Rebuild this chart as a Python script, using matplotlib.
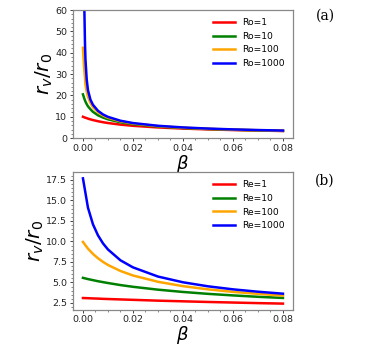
import numpy as np
import matplotlib
matplotlib.use('Agg')
import matplotlib.pyplot as plt

# valores
beta_a = [0.0, 0.0004, 0.0006, 0.0008, 0.001, 0.0015, 0.002, 0.003, 0.004, 0.006,
          0.008, 0.01, 0.015, 0.02, 0.03, 0.04, 0.05, 0.06, 0.07, 0.08]
ro_1 = [10.0, 9.8, 9.7, 9.6, 9.55, 9.35, 9.13, 8.77, 8.45, 7.91,
        7.45, 7.07, 6.32, 5.77, 5.0, 4.47, 4.08, 3.78, 3.54, 3.33]
ro_10 = [20.5, 19.0, 18.3, 17.7, 17.1, 15.9, 14.9, 13.5, 12.3, 10.7,
         9.63, 8.81, 7.42, 6.54, 5.43, 4.74, 4.27, 3.91, 3.63, 3.40]
ro_100 = [42.3, 34.0, 31.0, 28.6, 25.0, 21.8, 19.4, 16.4, 14.5, 12.1,
          10.6, 9.54, 7.85, 6.83, 5.60, 4.86, 4.36, 3.98, 3.69, 3.45]
ro_1000 = [100.0, 70.0, 58.0, 45.0, 37.0, 27.5, 22.5, 18.0, 15.6, 12.8,
           11.1, 9.95, 8.14, 7.05, 5.77, 5.0, 4.47, 4.08, 3.78, 3.53]

beta_b = [0.0, 0.002, 0.004, 0.006, 0.008, 0.01, 0.015, 0.02, 0.03, 0.04,
          0.05, 0.06, 0.07, 0.08]
re_1 = [3.10, 3.08, 3.05, 3.03, 3.00, 2.98, 2.93, 2.88, 2.78, 2.70,
        2.62, 2.55, 2.48, 2.42]
re_10 = [5.56, 5.41, 5.28, 5.15, 5.04, 4.93, 4.68, 4.47, 4.12, 3.84,
         3.61, 3.42, 3.25, 3.11]
re_100 = [9.94, 9.12, 8.48, 7.95, 7.51, 7.13, 6.40, 5.85, 5.08, 4.55,
          4.16, 3.85, 3.61, 3.40]
re_1000 = [17.69, 14.12, 12.09, 10.75, 9.77, 9.02, 7.70, 6.84, 5.72, 5.02,
           4.53, 4.16, 3.87, 3.63]

colores = ['red', 'green', 'orange', 'blue']

fig = plt.figure(figsize=(3.78, 3.47), dpi=100)
ax1 = fig.add_axes([0.193, 0.602, 0.582, 0.369])
ax2 = fig.add_axes([0.193, 0.107, 0.582, 0.397])

for y, lab, c in zip([ro_1, ro_10, ro_100, ro_1000],
                     ['Ro=1', 'Ro=10', 'Ro=100', 'Ro=1000'], colores):
    ax1.plot(beta_a, y, color=c, lw=1.8, label=lab)
ax1.set_ylim(0, 60)

for y, lab, c in zip([re_1, re_10, re_100, re_1000],
                     ['Re=1', 'Re=10', 'Re=100', 'Re=1000'], colores):
    ax2.plot(beta_b, y, color=c, lw=1.8, label=lab)

for ax in [ax1, ax2]:
    ax.set_xlim(-0.004, 0.084)
    ax.set_xticks([0.0, 0.02, 0.04, 0.06, 0.08])
    ax.minorticks_on()
    ax.tick_params(labelsize=6.8, colors='#222222', width=0.6, length=2.5, pad=1.5)
    ax.tick_params(which='minor', width=0.5, length=1.5, colors='#555555')
    for s in ax.spines.values():
        s.set_color('#888888')
        s.set_linewidth(0.9)
    ax.set_xlabel(r'$\beta$', fontsize=13, labelpad=0)
    ax.set_ylabel(r'$r_v/r_0$', fontsize=14.5, labelpad=0)
    ax.legend(loc='upper right', fontsize=6.6, frameon=False, handlelength=2.4)

fig.text(0.86, 0.955, '(a)', fontsize=10, family='DejaVu Serif', ha='center', va='center')
fig.text(0.86, 0.48, '(b)', fontsize=10, family='DejaVu Serif', ha='center', va='center')

plt.savefig('out.png', dpi=100)
